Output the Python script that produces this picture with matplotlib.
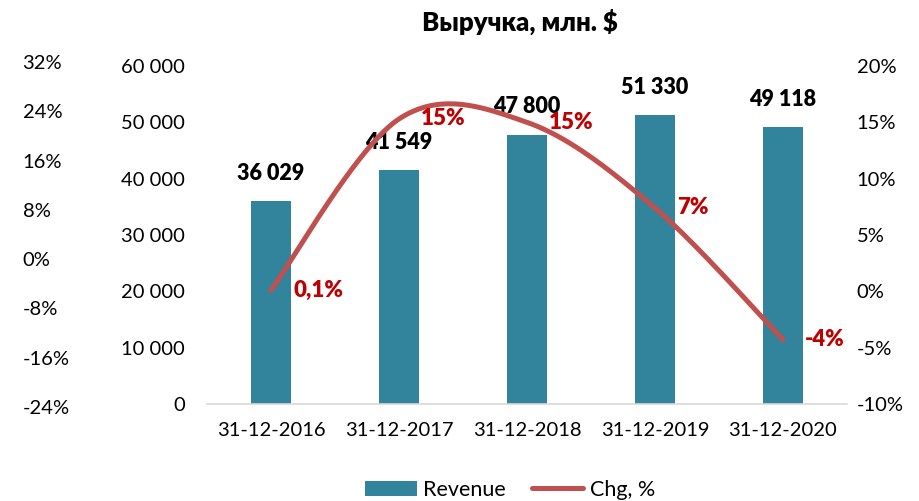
import matplotlib.pyplot as plt
import numpy as np

plt.rcParams['font.family'] = ['Lato', 'DejaVu Sans']

dates = ['31-12-2016', '31-12-2017', '31-12-2018', '31-12-2019', '31-12-2020']
revenue = [36029, 41549, 47800, 51330, 49118]
chg = [0.1, 15.3, 15.0, 7.4, -4.3]
chg_labels = ['0,1%', '15%', '15%', '7%', '-4%']
ghost_ticks = [32, 24, 16, 8, 0, -8, -16, -24]

bar_col = '#31849B'
line_col = '#C0504D'
lab_red = '#C00000'
fs = 14.5


def smooth(x, y, n=40):
    # Catmull-Rom bezier, roughly what Excel does for "smoothed line"
    x = np.asarray(x, float)
    y = np.asarray(y, float)
    P = np.column_stack([x, y])
    out = []
    for i in range(len(P) - 1):
        p0 = P[i - 1] if i > 0 else P[i]
        p3 = P[i + 2] if i + 2 < len(P) else P[i + 1]
        p1, p2 = P[i], P[i + 1]
        c1 = p1 + (p2 - p0) / 6
        c2 = p2 - (p3 - p1) / 6
        t = np.linspace(0, 1, n)[:, None]
        seg = (1 - t) ** 3 * p1 + 3 * (1 - t) ** 2 * t * c1 + 3 * (1 - t) * t ** 2 * c2 + t ** 3 * p2
        out.append(seg)
    out = np.vstack(out)
    return out[:, 0], out[:, 1]


fig = plt.figure(figsize=(9.2, 5.01), dpi=100)
ax = fig.add_axes([207 / 920, 1 - 404 / 501, 640 / 920, 338 / 501])
xs = np.arange(len(dates))

bars = ax.bar(xs, revenue, width=0.31, color=bar_col, label='Revenue', zorder=2)
ax.set_xlim(-0.5, len(dates) - 0.5)
ax.set_ylim(0, 60000)
ax.set_yticks(range(0, 60001, 10000))
ax.set_yticklabels(['{:,}'.format(v).replace(',', ' ') for v in range(0, 60001, 10000)])
ax.set_xticks(xs)
ax.set_xticklabels(dates)
ax.tick_params(axis='y', length=0, pad=16, labelsize=fs)
ax.tick_params(axis='x', length=0, pad=13, labelsize=fs)
for s in ['top', 'left', 'right']:
    ax.spines[s].set_visible(False)
ax.spines['bottom'].set_color('#D9D9D9')
ax.spines['bottom'].set_linewidth(1.2)

for xi, v in zip(xs, revenue):
    ax.annotate('{:,}'.format(v).replace(',', ' '), (xi, v), xytext=(0, 20),
                textcoords='offset points', ha='center', va='center',
                fontsize=15.5, fontweight='heavy', color='black', zorder=5)

ax2 = ax.twinx()
ax2.set_ylim(-10, 20)
ax2.set_yticks(range(-10, 21, 5))
ax2.set_yticklabels(['{}%'.format(v) for v in range(-10, 21, 5)])
ax2.tick_params(axis='y', length=0, pad=7, labelsize=fs)
for s in ax2.spines.values():
    s.set_visible(False)

sx, sy = smooth(xs, chg)
line, = ax2.plot(sx, sy, color=line_col, lw=3.6, solid_capstyle='round', label='Chg, %', zorder=3)
for xi, v, t in zip(xs, chg, chg_labels):
    ax2.annotate(t, (xi, v), xytext=(16, 0), textcoords='offset points',
                 ha='left', va='center', fontsize=16, fontweight='heavy', color=lab_red)

# cut-off axis of neighbouring chart at the left edge
ax3 = fig.add_axes([0, 1 - 407 / 501, 0.02, (407 - 62) / 501])
ax3.set_ylim(-24, 32)
ax3.set_yticks(ghost_ticks)
ax3.set_yticklabels(['{}%'.format(v) for v in ghost_ticks])
ax3.yaxis.tick_right()
ax3.tick_params(axis='y', length=0, pad=3, labelsize=fs)
ax3.set_xticks([])
ax3.patch.set_visible(False)
for s in ax3.spines.values():
    s.set_visible(False)

fig.text(520 / 920, 1 - 22 / 501, 'Выручка, млн. $', ha='center', va='center',
         fontsize=18.5, fontweight='heavy')

fig.legend(handles=[bars, line], loc='center', bbox_to_anchor=(510 / 920, 1 - 490 / 501),
           ncol=2, frameon=False, fontsize=15.5, handlelength=2.4, handletextpad=0.3,
           columnspacing=1.2)

fig.savefig('out.png', dpi=100)
